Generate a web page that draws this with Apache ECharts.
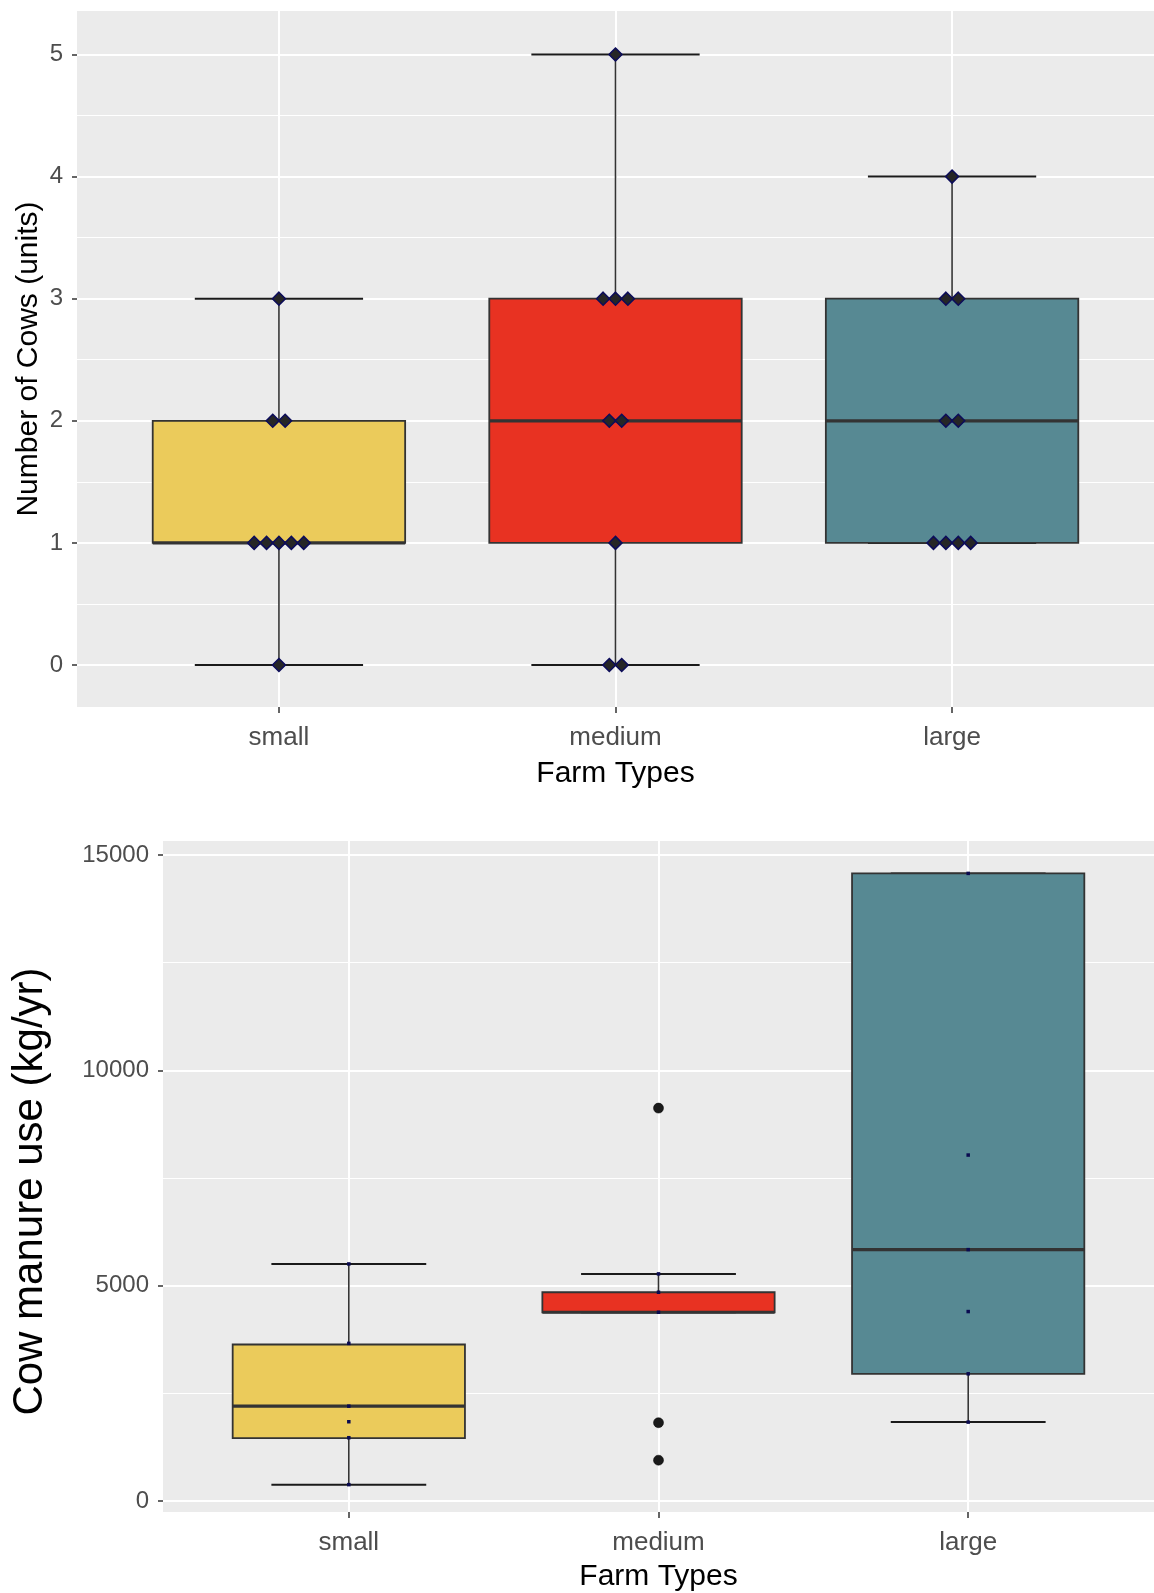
<!DOCTYPE html>
<html>
<head>
<meta charset="utf-8">
<script src="https://cdn.jsdelivr.net/npm/echarts@6/dist/echarts.min.js"></script>
<style>
  html, body { margin: 0; padding: 0; background: #ffffff; }
  #chart { width: 1154px; height: 1593px; }
</style>
</head>
<body>
<div id="chart"></div>
<script>
// ---------- data ----------
const categories = ['small', 'medium', 'large'];
const catTicks = [0, 1, 2];
const boxColors = ['#EBCB5B', '#E83222', '#578993'];

// Chart 1: Number of cows — five-number summaries [min, Q1, median, Q3, max]
const cowStats = [
  [0, 1, 1, 2, 3],
  [0, 1, 2, 3, 5],
  [1, 1, 2, 3, 4]
];
// individual observations (dot plot)
const cowDots = [
  [0, 1, 1, 1, 1, 1, 2, 2, 3],
  [0, 0, 1, 2, 2, 3, 3, 3, 5],
  [1, 1, 1, 1, 2, 2, 3, 3, 4]
];
const cowTicks = [0, 1, 2, 3, 4, 5];

// Chart 2: Cow manure use (kg/yr)
const manureStats = [
  [380, 1460, 2203, 3634, 5505],
  [4383, 4383, 4383, 4847, 5274],
  [1832, 2954, 5837, 14573, 14573]
];
const manurePoints = [
  [380, 1470, 1841, 2203, 3660, 5505],
  [4383, 4847, 5274],
  [1832, 2954, 4399, 5837, 8033, 14573]
];
const manureOutliers = [
  [],
  [948, 1818, 9123],
  []
];
const manureTicks = [0, 5000, 10000, 15000];

// ---------- helpers ----------
const FONT = 'Liberation Sans, Arial, sans-serif';
const TICK_COLOR = '#4D4D4D';

function boxRender(params, api) {
  const i = api.value(0);
  const v = [1, 2, 3, 4, 5].map(d => api.value(d));
  const x = api.coord([i, v[2]])[0];
  const yOf = val => api.coord([i, val])[1];
  const boxW = api.size([0.75, 0])[0];
  const capW = api.size([0.5, 0])[0];
  const stroke = '#333333';
  const color = boxColors[params.dataIndex];
  return {
    type: 'group',
    children: [
      { type: 'line', shape: { x1: x, y1: yOf(v[0]), x2: x, y2: yOf(v[4]) },
        style: { stroke: stroke, lineWidth: 1.6 } },
      { type: 'line', shape: { x1: x - capW / 2, y1: yOf(v[0]), x2: x + capW / 2, y2: yOf(v[0]) },
        style: { stroke: '#1a1a1a', lineWidth: 2 } },
      { type: 'line', shape: { x1: x - capW / 2, y1: yOf(v[4]), x2: x + capW / 2, y2: yOf(v[4]) },
        style: { stroke: '#1a1a1a', lineWidth: 2 } },
      { type: 'rect', shape: { x: x - boxW / 2, y: yOf(v[3]), width: boxW, height: yOf(v[1]) - yOf(v[3]) },
        style: { fill: color, stroke: stroke, lineWidth: 1.8 } },
      { type: 'line', shape: { x1: x - boxW / 2, y1: yOf(v[2]), x2: x + boxW / 2, y2: yOf(v[2]) },
        style: { stroke: stroke, lineWidth: 3.2 } }
    ]
  };
}

function statsData(stats) {
  return stats.map((s, i) => [i].concat(s));
}

// dot-plot stacking: identical values spread horizontally, centred on the category
function dotData(groups, step) {
  const out = [];
  groups.forEach((vals, i) => {
    const counts = {};
    vals.forEach(v => { counts[v] = (counts[v] || 0) + 1; });
    const seen = {};
    vals.forEach(v => {
      const n = counts[v];
      const k = seen[v] || 0;
      seen[v] = k + 1;
      out.push({ value: [i, v], symbolOffset: [(k - (n - 1) / 2) * step, 0] });
    });
  });
  return out;
}

function flatPoints(groups) {
  const out = [];
  groups.forEach((vals, i) => vals.forEach(v => out.push([i, v])));
  return out;
}

function xAxisCfg(gridIndex, nameGap) {
  return {
    type: 'value', gridIndex: gridIndex,
    min: -0.6, max: 2.6, minInterval: 1, maxInterval: 1,
    axisLine: { show: false, onZero: false },
    axisTick: { show: true, customValues: catTicks, length: 6, lineStyle: { color: '#333333', width: 1.5 } },
    axisLabel: {
      customValues: catTicks,
      formatter: v => (Number.isInteger(v) && categories[v]) ? categories[v] : '',
      fontSize: 26, color: TICK_COLOR, fontFamily: FONT, margin: 18
    },
    splitLine: { show: true, lineStyle: { color: '#FFFFFF', width: 2 } },
    name: 'Farm Types', nameLocation: 'middle', nameGap: nameGap, nameMoveOverlap: false,
    nameTextStyle: { fontSize: 30, color: '#000000', fontFamily: FONT }
  };
}

function yAxisCfg(gridIndex, min, max, step, ticks, name, nameSize, nameGap, labelSize, namePad) {
  return {
    type: 'value', gridIndex: gridIndex,
    min: min, max: max, minInterval: step, maxInterval: step,
    axisLine: { show: false, onZero: false },
    axisTick: { show: true, customValues: ticks, length: 5, lineStyle: { color: '#333333', width: 1.5 } },
    axisLabel: {
      customValues: ticks,
      formatter: v => ticks.indexOf(v) >= 0 ? String(v) : '',
      fontSize: labelSize, color: TICK_COLOR, fontFamily: FONT, margin: 14
    },
    splitLine: { show: true, lineStyle: { color: '#FFFFFF', width: 2 } },
    minorTick: { show: false, splitNumber: 2 },
    minorSplitLine: { show: true, lineStyle: { color: '#FFFFFF', width: 1.2 } },
    name: name, nameLocation: 'middle', nameGap: nameGap, nameRotate: 90, nameMoveOverlap: false,
    nameTextStyle: { fontSize: nameSize, color: '#000000', fontFamily: FONT, padding: namePad }
  };
}

const chart = echarts.init(document.getElementById('chart'), null, { renderer: 'canvas' });

const option = {
  backgroundColor: '#FFFFFF',
  animation: false,
  textStyle: { fontFamily: FONT },
  grid: [
    { left: 77, right: -8, top: 11, height: 696, show: true, backgroundColor: '#EBEBEB', borderWidth: 0 },
    { left: 163, right: -1, top: 841, height: 672, show: true, backgroundColor: '#EBEBEB', borderWidth: 0 }
  ],
  xAxis: [xAxisCfg(0, 52), xAxisCfg(1, 50)],
  yAxis: [
    yAxisCfg(0, -0.344, 5.356, 1, cowTicks, 'Number of Cows (units)', 30, 33, 24, [0, 0, 0, 0]),
    yAxisCfg(1, -255, 15325, 5000, manureTicks, 'Cow manure use (kg/yr)', 42, 112, 24, [0, 30, 0, 0])
  ],
  series: [
    {
      type: 'custom', xAxisIndex: 0, yAxisIndex: 0,
      renderItem: boxRender,
      encode: { x: 0, y: [1, 2, 3, 4, 5] },
      data: statsData(cowStats), z: 2, silent: true
    },
    {
      type: 'scatter', xAxisIndex: 0, yAxisIndex: 0,
      symbol: 'diamond', symbolSize: 13,
      itemStyle: { color: '#262626', borderColor: '#0c0c5a', borderWidth: 1.5, opacity: 1 },
      data: dotData(cowDots, 12.4), z: 3, silent: true
    },
    {
      type: 'custom', xAxisIndex: 1, yAxisIndex: 1,
      renderItem: boxRender,
      encode: { x: 0, y: [1, 2, 3, 4, 5] },
      data: statsData(manureStats), z: 2, silent: true
    },
    {
      type: 'scatter', xAxisIndex: 1, yAxisIndex: 1,
      symbol: 'circle', symbolSize: 10,
      itemStyle: { color: '#1a1a1a', borderColor: '#000000', borderWidth: 0.5, opacity: 1 },
      data: flatPoints(manureOutliers), z: 3, silent: true
    },
    {
      type: 'scatter', xAxisIndex: 1, yAxisIndex: 1,
      symbol: 'rect', symbolSize: 3.5,
      itemStyle: { color: '#0a0a50', opacity: 1 },
      data: flatPoints(manurePoints), z: 4, silent: true
    }
  ]
};

chart.setOption(option);
</script>
</body>
</html>
